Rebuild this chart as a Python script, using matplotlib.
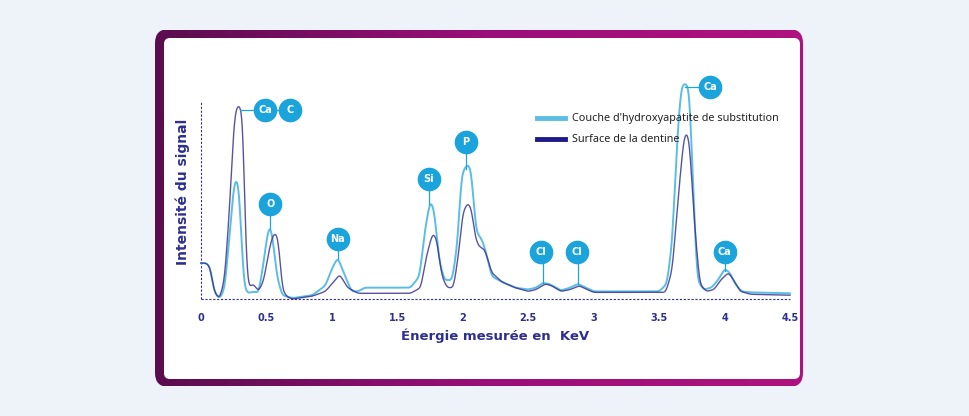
import numpy as np
import matplotlib.pyplot as plt
from matplotlib.patches import FancyBboxPatch
from matplotlib.lines import Line2D
from matplotlib.colors import LinearSegmentedColormap

# spectre de la couche d'hydroxyapatite (clair)
light_x = [0, .04, .07, .10, .14, .18, .22, .25, .27, .29, .31, .33, .36, .40, .44, .48, .51, .53, .55, .58,
           .62, .70, .85, .95, 1.0, 1.045, 1.09, 1.15, 1.2, 1.25, 1.6, 1.67, 1.71, 1.75, 1.78, 1.82, 1.86,
           1.92, 1.96, 1.99, 2.03, 2.06, 2.08, 2.10, 2.15, 2.18, 2.22, 2.3, 2.4, 2.5, 2.56, 2.61, 2.66, 2.75,
           2.82, 2.88, 2.94, 3.0, 3.5, 3.56, 3.6, 3.64, 3.67, 3.70, 3.73, 3.76, 3.79, 3.84, 3.9, 3.95, 4.0,
           4.04, 4.08, 4.13, 4.2, 4.5]
light_y = [19, 19, 17, 4, 0, 5, 35, 60, 64, 60, 30, 6, 3, 4, 3, 20, 36, 39, 31, 12,
           2, 0.5, 2, 7, 16, 22, 14, 4, 4, 6, 6, 12, 36, 52, 48, 20, 10,
           10, 30, 66, 71, 70, 55, 36, 31, 24, 12, 9, 6, 5, 6, 8.5, 8, 4.5,
           6, 8, 6, 4, 4, 8, 30, 87, 113, 114, 112, 60, 10, 5, 6, 10, 16,
           14, 8, 4, 3.5, 3]
# spectre de la surface de la dentine (foncé)
dark_x = [0, .04, .07, .10, .14, .18, .22, .25, .27, .30, .32, .34, .36, .40, .44, .48, .52, .55, .58, .60,
          .62, .66, .70, .85, .95, 1.0, 1.06, 1.12, 1.2, 1.6, 1.68, 1.72, 1.77, 1.80, 1.84, 1.88, 1.93, 1.97,
          2.0, 2.04, 2.07, 2.09, 2.12, 2.17, 2.22, 2.3, 2.4, 2.5, 2.56, 2.63, 2.68, 2.75, 2.82, 2.89, 2.95,
          3.0, 3.55, 3.6, 3.65, 3.69, 3.71, 3.73, 3.77, 3.81, 3.86, 3.92, 3.97, 4.03, 4.07, 4.12, 4.2, 4.5]
dark_y = [19, 19, 17, 4, 0, 10, 50, 92, 102, 102, 97, 30, 6, 8, 4, 10, 26, 34, 35, 25,
          5, 1, 0, 1.5, 4, 8, 13, 6, 3, 3, 6, 22, 35, 32, 12, 6, 6, 25,
          46, 51, 47, 34, 28, 26, 14, 9, 6, 4, 5, 8, 7, 4, 5, 7, 5,
          3.5, 3.5, 15, 57, 86, 88, 85, 40, 8, 4, 5, 10, 14, 10, 4, 2.5, 2]

ticks = [0, 0.5, 1, 1.5, 2, 2.5, 3, 3.5, 4, 4.5]
tick_labels = ['0', '0.5', '1', '1.5', '2', '2.5', '3', '3.5', '4', '4.5']

# étiquettes : texte, x cercle, y cercle, x pic, y pic
labels = [('O', 0.53, 50, 0.53, 37), ('Na', 1.045, 32, 1.045, 21), ('Si', 1.74, 63.5, 1.745, 50),
          ('P', 2.025, 83, 2.025, 69), ('Cl', 2.6, 25, 2.61, 8.5), ('Cl', 2.87, 25, 2.88, 8),
          ('Ca', 4.0, 25, 4.0, 15)]

LIGHT = '#5bbde6'
DARK = '#3a3591'
BADGE = '#1ba3dc'
NAVY = '#2d2f8e'


def lisse(xs, ys):
    # interpolation fine + léger lissage pour arrondir les sommets
    g = np.linspace(0, 4.5, 2000)
    v = np.interp(g, xs, ys)
    k = np.exp(-0.5 * (np.arange(-15, 16) / 5.0) ** 2)
    k /= k.sum()
    v = np.convolve(np.pad(v, 15, mode='edge'), k, mode='same')[15:-15]
    return g, v


fig = plt.figure(figsize=(9.7, 4.16), dpi=100)
fig.patch.set_facecolor('#eef3fa')

# cadre dégradé violet
bg = fig.add_axes([0, 0, 1, 1])
bg.set_xlim(0, 970)
bg.set_ylim(416, 0)
bg.axis('off')
grad = np.linspace(0, 1, 256)[None, :]
cmap = LinearSegmentedColormap.from_list('p', ['#5a0d4e', '#9a0f78', '#b0127f'])
im = bg.imshow(grad, extent=[155, 809, 386, 30], cmap=cmap, aspect='auto')
frame = FancyBboxPatch((163, 37), 646 - 14, 342, boxstyle='round,pad=8,rounding_size=14',
                       transform=bg.transData, facecolor='none', edgecolor='none')
bg.add_patch(frame)
im.set_clip_path(frame)
bg.add_patch(FancyBboxPatch((164, 38), 636, 341, boxstyle='round,pad=0,rounding_size=6',
                            facecolor='white', edgecolor='none'))

ax = fig.add_axes([201 / 970, 1 - 299 / 416, 589 / 970, 214 / 416])
ax.set_xlim(0, 4.5)
ax.set_ylim(0, 113.2)
ax.patch.set_alpha(0)
for s in ax.spines.values():
    s.set_visible(False)
ax.plot([0, 4.5], [0, 0], ls=(0, (2, 1.5)), color=NAVY, lw=0.8, clip_on=False)
ax.plot([0, 0], [0, 105], ls=(0, (2, 1.5)), color=NAVY, lw=0.8, clip_on=False)
gx, gy = lisse(light_x, light_y)
ax.plot(gx, gy, color=LIGHT, lw=1.4, clip_on=False)
gx, gy = lisse(dark_x, dark_y)
ax.plot(gx, gy, color=DARK, lw=1.0, alpha=0.85, clip_on=False)

ax.set_xticks(ticks)
ax.set_xticklabels(tick_labels, fontsize=7, fontweight='bold', color=NAVY)
ax.set_yticks([])
ax.tick_params(axis='x', length=0, pad=10)
ax.set_xlabel('Énergie mesurée en  KeV', fontsize=9.5, fontweight='bold', color=NAVY, labelpad=4)
ax.set_ylabel('Intensité du signal', fontsize=10, fontweight='bold', color=NAVY, labelpad=8)


def badge(x, y, txt):
    ax.plot([x], [y], 'o', ms=16, color=BADGE, clip_on=False, zorder=5)
    ax.text(x, y, txt, ha='center', va='center', color='white', fontsize=7, fontweight='bold', zorder=6)


for txt, bx, by, px, py in labels:
    ax.plot([px, px], [py, by], color=BADGE, lw=0.9, zorder=4)
    badge(bx, by, txt)

# Ca / C sur le premier pic
ax.plot([0.30, 0.68], [100, 100], color=BADGE, lw=0.9, zorder=4)
badge(0.49, 100, 'Ca')
badge(0.68, 100, 'C')
# Ca sur le grand pic
ax.plot([3.70, 3.89], [112, 112], color=BADGE, lw=0.9, zorder=4)
badge(3.89, 112, 'Ca')

# légende
fig.add_artist(Line2D([537 / 970, 565 / 970], [1 - 118 / 416] * 2, color=LIGHT, lw=3.5))
fig.add_artist(Line2D([537 / 970, 565 / 970], [1 - 139 / 416] * 2, color='#1f1a8a', lw=3.5))
fig.text(572 / 970, 1 - 118 / 416, "Couche d'hydroxyapatite de substitution", fontsize=7.8,
         va='center', color='#222222', family='Noto Sans')
fig.text(572 / 970, 1 - 139 / 416, 'Surface de la dentine', fontsize=7.8, va='center',
         color='#222222', family='Noto Sans')

fig.savefig('out.png', dpi=100)
